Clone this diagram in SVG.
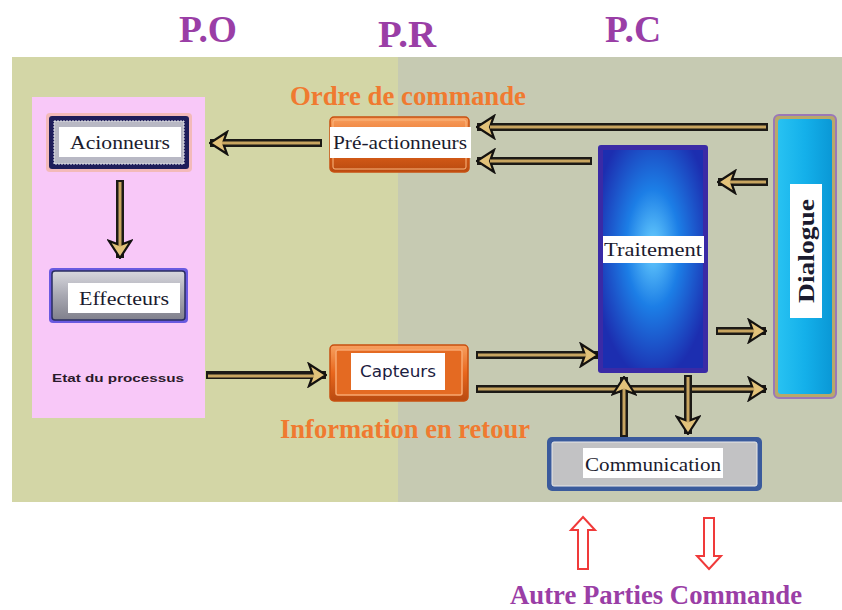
<svg xmlns="http://www.w3.org/2000/svg" width="842" height="610" viewBox="0 0 842 610">
  <defs>
    <style>
      .title { font-family: "Liberation Serif", "DejaVu Serif", serif; font-weight: bold; fill: #9a3ea6; }
      .orange { font-family: "Liberation Serif", "DejaVu Serif", serif; font-weight: bold; fill: #f07a30; }
      .lbl { font-family: "Liberation Serif", "DejaVu Serif", serif; fill: #1b1b2e; text-anchor: middle; }
      .shaft { fill: none; stroke: #1c1a16; stroke-width: 8; }
      .core { fill: none; stroke: #c8a560; stroke-width: 3; }
      .hollow { fill: #ffffff; stroke: #f03a3a; stroke-width: 2; }
    </style>
    <marker id="head" markerUnits="userSpaceOnUse" viewBox="0 -13 20 26" refX="19" refY="0" markerWidth="20" markerHeight="26" orient="auto">
      <path d="M19,0 L2,-11 L6,0 L2,11 Z" fill="#e2c27a" stroke="#141210" stroke-width="2.2" stroke-linejoin="miter"/>
    </marker>
    <linearGradient id="orangeG" x1="0" y1="0" x2="0" y2="1">
      <stop offset="0" stop-color="#f7a060"/>
      <stop offset="0.5" stop-color="#e8661c"/>
      <stop offset="1" stop-color="#b84a10"/>
    </linearGradient>
    <radialGradient id="blueG" cx="0.5" cy="0.45" r="0.6">
      <stop offset="0" stop-color="#6ad0ff"/>
      <stop offset="0.45" stop-color="#1c7ee6"/>
      <stop offset="1" stop-color="#1c2eb0"/>
    </radialGradient>
    <linearGradient id="cyanG" x1="0" y1="0" x2="1" y2="0">
      <stop offset="0" stop-color="#28c2f2"/>
      <stop offset="0.5" stop-color="#14b0ea"/>
      <stop offset="1" stop-color="#0a98d6"/>
    </linearGradient>
    <linearGradient id="greyG" x1="0" y1="0" x2="0" y2="1">
      <stop offset="0" stop-color="#d8d8de"/>
      <stop offset="0.5" stop-color="#a8a8b2"/>
      <stop offset="1" stop-color="#80808c"/>
    </linearGradient>
  </defs>

  <!-- page background -->
  <rect x="0" y="0" width="842" height="610" fill="#ffffff"/>

  <!-- column titles -->
  <text class="title" x="208" y="42" font-size="38" text-anchor="middle" textLength="58" lengthAdjust="spacingAndGlyphs">P.O</text>
  <text class="title" x="407" y="47" font-size="38" text-anchor="middle" textLength="58" lengthAdjust="spacingAndGlyphs">P.R</text>
  <text class="title" x="633" y="42" font-size="38" text-anchor="middle" textLength="56" lengthAdjust="spacingAndGlyphs">P.C</text>

  <!-- zones -->
  <rect x="12" y="57" width="386" height="445" fill="#d3d6a6"/>
  <rect x="398" y="57" width="444" height="445" fill="#c6cab2"/>
  <rect x="32" y="97" width="173" height="321" fill="#f8c8f8"/>

  <!-- section captions -->
  <text class="orange" x="408" y="105" font-size="27" text-anchor="middle" textLength="236" lengthAdjust="spacingAndGlyphs">Ordre de commande</text>
  <text class="orange" x="405" y="438" font-size="27" text-anchor="middle" textLength="250" lengthAdjust="spacingAndGlyphs">Information en retour</text>
  <text x="118" y="382" font-family="'Liberation Sans', Arial, sans-serif" font-weight="bold" font-size="11" fill="#2a1a2a" text-anchor="middle" textLength="132" lengthAdjust="spacingAndGlyphs">Etat du processus</text>

  <!-- connectors -->
  <g id="connectors">
    <g>
      <path class="shaft" d="M322,143 H210" marker-end="url(#head)"/>
      <path class="core" d="M320,143 H222"/>
    </g>
    <g>
      <path class="shaft" d="M120,180 V258" marker-end="url(#head)"/>
      <path class="core" d="M120,182 V246"/>
    </g>
    <g>
      <path class="shaft" d="M206,375 H326" marker-end="url(#head)"/>
      <path class="core" d="M208,376 H314"/>
    </g>
    <g>
      <path class="shaft" d="M768,127 H477" marker-end="url(#head)"/>
      <path class="core" d="M766,127 H490"/>
    </g>
    <g>
      <path class="shaft" d="M592,161 H477" marker-end="url(#head)"/>
      <path class="core" d="M590,161 H490"/>
    </g>
    <g>
      <path class="shaft" d="M768,182 H718" marker-end="url(#head)"/>
      <path class="core" d="M766,182 H730"/>
    </g>
    <g>
      <path class="shaft" d="M716,331 H766" marker-end="url(#head)"/>
      <path class="core" d="M718,331 H754"/>
    </g>
    <g>
      <path class="shaft" d="M476,355 H598" marker-end="url(#head)"/>
      <path class="core" d="M478,355 H586"/>
    </g>
    <g>
      <path class="shaft" d="M476,389 H766" marker-end="url(#head)"/>
      <path class="core" d="M478,389 H754"/>
    </g>
    <g>
      <path class="shaft" d="M624,437 V377" marker-end="url(#head)"/>
      <path class="core" d="M624,435 V389"/>
    </g>
    <g>
      <path class="shaft" d="M688,375 V434" marker-end="url(#head)"/>
      <path class="core" d="M688,377 V422"/>
    </g>
  </g>

  <!-- nodes -->
  <g id="actionneurs">
    <rect x="46" y="113" width="146" height="59" rx="4" fill="#f0b090" opacity="0.6"/>
    <rect x="49" y="116" width="140" height="53" rx="3" fill="#1e1d5a"/>
    <rect x="54" y="121" width="130" height="43" fill="#b8b8c4" stroke="#e8e8ee" stroke-width="1" stroke-dasharray="2 1"/>
    <rect x="59" y="127" width="122" height="30" fill="#ffffff"/>
    <text class="lbl" x="120" y="149" font-size="18" textLength="100" lengthAdjust="spacingAndGlyphs">Acionneurs</text>
  </g>

  <g id="effecteurs">
    <rect x="49" y="268" width="139" height="55" rx="4" fill="#6a5ae0"/>
    <rect x="52" y="271" width="133" height="49" rx="3" fill="url(#greyG)" stroke="#2a2e60" stroke-width="1.5"/>
    <rect x="68" y="283" width="112" height="30" fill="#ffffff"/>
    <text class="lbl" x="124" y="305" font-size="18" textLength="90" lengthAdjust="spacingAndGlyphs">Effecteurs</text>
  </g>

  <g id="pre-actionneurs">
    <rect x="330" y="117" width="139" height="55" rx="4" fill="url(#orangeG)" stroke="#c85010" stroke-width="1.5"/>
    <rect x="333" y="120" width="133" height="49" rx="2" fill="none" stroke="#fbb880" stroke-width="1"/>
    <rect x="330" y="127" width="141" height="31" fill="#ffffff"/>
    <text class="lbl" x="400" y="149" font-size="18" textLength="134" lengthAdjust="spacingAndGlyphs">Pré-actionneurs</text>
  </g>

  <g id="capteurs">
    <rect x="330" y="345" width="138" height="56" rx="4" fill="url(#orangeG)" stroke="#c85010" stroke-width="1.5"/>
    <rect x="336" y="350" width="126" height="45" rx="2" fill="#e46a22" stroke="#f8a870" stroke-width="1.5"/>
    <rect x="351" y="353" width="94" height="37" fill="#ffffff"/>
    <text x="398" y="377" font-family="'DejaVu Sans', 'Liberation Sans', sans-serif" font-size="16" fill="#1b2040" text-anchor="middle" textLength="76" lengthAdjust="spacingAndGlyphs">Capteurs</text>
  </g>

  <g id="traitement">
    <rect x="598" y="145" width="110" height="228" rx="3" fill="#3a2aa6"/>
    <rect x="603" y="150" width="100" height="218" fill="url(#blueG)"/>
    <rect x="603" y="236" width="101" height="27" fill="#ffffff"/>
    <text class="lbl" x="653" y="256" font-size="19" textLength="98" lengthAdjust="spacingAndGlyphs">Traitement</text>
  </g>

  <g id="dialogue">
    <rect x="774" y="115" width="62" height="283" rx="5" fill="#b8a86a" stroke="#9a78b8" stroke-width="2"/>
    <rect x="778" y="119" width="54" height="275" rx="3" fill="url(#cyanG)"/>
    <rect x="790" y="184" width="32" height="134" fill="#ffffff"/>
    <text class="lbl" transform="translate(814 251) rotate(-90)" font-size="24" font-weight="bold" textLength="104" lengthAdjust="spacingAndGlyphs">Dialogue</text>
  </g>

  <g id="communication">
    <rect x="547" y="437" width="215" height="54" rx="5" fill="#3a5a9c"/>
    <rect x="552" y="442" width="205" height="44" rx="2" fill="#c2c2c4" stroke="#e8e8ea" stroke-width="1"/>
    <rect x="583" y="448" width="140" height="30" fill="#ffffff"/>
    <text class="lbl" x="653" y="471" font-size="18" textLength="136" lengthAdjust="spacingAndGlyphs">Communication</text>
  </g>

  <!-- exchange with other control parts -->
  <g id="echanges">
    <path class="hollow" d="M583,517 L595,530 L588,530 L588,569 L578,569 L578,530 L571,530 Z"/>
    <path class="hollow" d="M709,569 L721,556 L714,556 L714,518 L704,518 L704,556 L697,556 Z"/>
    <text class="title" x="656" y="604" font-size="28" text-anchor="middle" textLength="292" lengthAdjust="spacingAndGlyphs">Autre Parties Commande</text>
  </g>
</svg>
